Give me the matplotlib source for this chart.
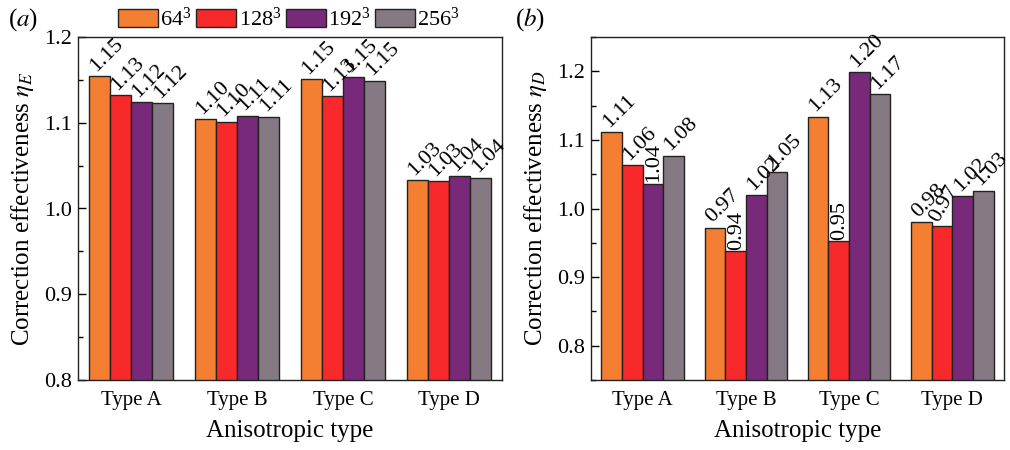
import matplotlib
matplotlib.use("Agg")
import matplotlib.pyplot as plt
import numpy as np
from matplotlib.patches import Patch
from matplotlib.ticker import MultipleLocator, FormatStrFormatter

types = ["Type A", "Type B", "Type C", "Type D"]
grids = [r"$\mathregular{64^3}$", r"$\mathregular{128^3}$",
         r"$\mathregular{192^3}$", r"$\mathregular{256^3}$"]

# rows: grid resolution, columns: anisotropic type
eta_E = [
    [1.154, 1.104, 1.151, 1.033],
    [1.132, 1.101, 1.131, 1.032],
    [1.124, 1.108, 1.153, 1.038],
    [1.123, 1.107, 1.149, 1.036],
]
eta_D = [
    [1.111, 0.972, 1.134, 0.980],
    [1.063, 0.938, 0.952, 0.974],
    [1.036, 1.020, 1.199, 1.018],
    [1.077, 1.053, 1.167, 1.026],
]

colors = ["#F47F32", "#F8292B", "#79297A", "#857A84"]

# label rotation per bar in panel (b); panel (a) uses 45 everywhere
rot_D = [
    [45, 45, 45, 45],
    [45, 90, 90, 60],
    [90, 45, 45, 45],
    [45, 45, 45, 45],
]

plt.rcParams["font.family"] = "Liberation Serif"
plt.rcParams["mathtext.fontset"] = "stix"

fig = plt.figure(figsize=(10.1, 4.5), dpi=100)
ax1 = fig.add_axes([78 / 1010, 70 / 450, 424 / 1010, 343 / 450])
ax2 = fig.add_axes([591 / 1010, 70 / 450, 413 / 1010, 343 / 450])

x = np.arange(len(types))
w = 0.2


def draw(ax, data, ylim, rots=None):
    for i, vals in enumerate(data):
        pos = x + (i - 1.5) * w
        ax.bar(pos, vals, width=w, color=colors[i], edgecolor="#222222", linewidth=1.0, zorder=2)
        for j, (p, v) in enumerate(zip(pos, vals)):
            r = 45 if rots is None else rots[i][j]
            if r == 90:
                ax.text(p + 0.01, v + 0.002, f"{v:.2f}", rotation=90, rotation_mode="anchor",
                        ha="left", va="center", fontsize=16)
            else:
                ax.text(p + 0.005, v + 0.001, f"{v:.2f}", rotation=r, rotation_mode="anchor",
                        ha="left", va="bottom", fontsize=16)
    ax.set_xlim(-0.5, 3.5)
    ax.set_ylim(*ylim)
    ax.set_xticks(x)
    ax.set_xticklabels(types)
    ax.yaxis.set_major_locator(MultipleLocator(0.1))
    ax.yaxis.set_minor_locator(MultipleLocator(0.05))
    ax.yaxis.set_major_formatter(FormatStrFormatter("%.1f"))
    ax.tick_params(axis="y", which="major", direction="in", length=6, width=1, labelsize=16, pad=4)
    ax.tick_params(axis="y", which="minor", direction="in", length=3.5, width=1)
    ax.tick_params(axis="x", length=0, labelsize=15, pad=8)
    for s in ax.spines.values():
        s.set_linewidth(1.0)
        s.set_color("#222222")
    ax.set_xlabel("Anisotropic type", fontsize=18, labelpad=7)


draw(ax1, eta_E, (0.8, 1.2))
draw(ax2, eta_D, (0.75, 1.25), rot_D)
ax1.set_ylabel(r"Correction effectiveness $\eta_E$", fontsize=18, labelpad=6)
ax2.set_ylabel(r"Correction effectiveness $\eta_D$", fontsize=18, labelpad=6)

fig.text(8 / 1010, 1 - 20 / 450, "($a$)", fontsize=18, va="center", ha="left")
fig.text(515 / 1010, 1 - 20 / 450, "($b$)", fontsize=18, va="center", ha="left")

handles = [Patch(facecolor=c, edgecolor="#222222", linewidth=1.0) for c in colors]
fig.legend(handles, grids, loc="center", bbox_to_anchor=(289 / 1010, 1 - 19 / 450), ncol=4,
           frameon=False, fontsize=16, handlelength=1.8, handleheight=0.85,
           handletextpad=0.1, columnspacing=0.2, borderpad=0.1)

fig.savefig("out.png", dpi=100)
